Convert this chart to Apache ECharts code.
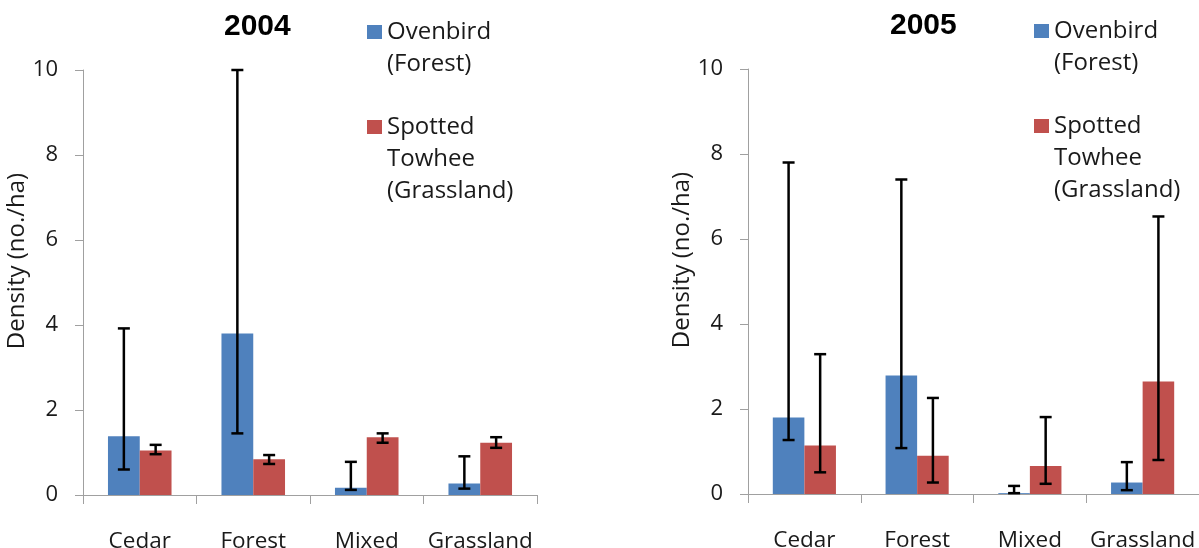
<!DOCTYPE html>
<html>
<head>
<meta charset="utf-8">
<script src="https://cdn.jsdelivr.net/npm/echarts@6/dist/echarts.min.js"></script>
<style>
html,body{margin:0;padding:0;background:#fff;}
#chart{width:1199px;height:548px;}
</style>
</head>
<body>
<div id="chart"></div>
<script>
var categories = ['Cedar', 'Forest', 'Mixed', 'Grassland'];
var yTicks = [0, 2, 4, 6, 8, 10];

var ovenbird2004 = [1.38, 3.80, 0.17, 0.27];
var ovenbird2004Low = [0.60, 1.45, 0.12, 0.15];
var ovenbird2004High = [3.92, 10.0, 0.78, 0.91];
var towhee2004 = [1.05, 0.84, 1.36, 1.23];
var towhee2004Low = [0.96, 0.73, 1.23, 1.11];
var towhee2004High = [1.18, 0.94, 1.45, 1.36];

var ovenbird2005 = [1.80, 2.79, 0.02, 0.27];
var ovenbird2005Low = [1.27, 1.08, 0.02, 0.09];
var ovenbird2005High = [7.80, 7.40, 0.19, 0.75];
var towhee2005 = [1.14, 0.90, 0.66, 2.65];
var towhee2005Low = [0.51, 0.27, 0.24, 0.80];
var towhee2005High = [3.29, 2.26, 1.81, 6.53];

var titles = ['2004', '2005'];
var seriesNames = ['Ovenbird (Forest)', 'Spotted Towhee (Grassland)'];
var legendLabels = ['Ovenbird\n(Forest)', 'Spotted\nTowhee\n(Grassland)'];
var yName = 'Density (no./ha)';

var BLUE = '#4f81bd', RED = '#c0504d';
var GAP = 0.44;
var FONT = "'Open Sans', 'Noto Sans', sans-serif";
var TXT = '#1a1a1a';
var AXIS = '#a0a0a0';

function errData(lo, hi) {
  return lo.map(function (v, i) { return [i, v, hi[i]]; });
}
function errRender(side) {
  return function (params, api) {
    var x = api.value(0), lo = api.value(1), hi = api.value(2);
    var p1 = api.coord([x, hi]), p2 = api.coord([x, lo]);
    var catW = api.size([1, 0])[0];
    var barW = catW * (1 - GAP) / 2;
    var cx = p1[0] + side * barW / 2;
    var hw = 6;
    var st = { stroke: '#000', lineWidth: 2.5 };
    return {
      type: 'group',
      children: [
        { type: 'line', shape: { x1: cx, y1: p1[1], x2: cx, y2: p2[1] }, style: st },
        { type: 'line', shape: { x1: cx - hw, y1: p1[1], x2: cx + hw, y2: p1[1] }, style: st },
        { type: 'line', shape: { x1: cx - hw, y1: p2[1], x2: cx + hw, y2: p2[1] }, style: st }
      ]
    };
  };
}

var grids = [
  { left: 83, top: 70, width: 454, height: 425, outerBoundsMode: 'none', containLabel: false },
  { left: 748, top: 69, width: 451, height: 425, outerBoundsMode: 'none', containLabel: false }
];

function xAxis(i) {
  return {
    type: 'category', gridIndex: i, data: categories,
    axisLine: { lineStyle: { color: AXIS, width: 1 } },
    axisTick: { show: true, interval: 0, alignWithLabel: false, length: 9, lineStyle: { color: AXIS } },
    axisLabel: { interval: 0, margin: 35, fontFamily: FONT, fontSize: 22.5, color: TXT }
  };
}
function yAxis(i) {
  return {
    type: 'value', gridIndex: i, min: yTicks[0], max: yTicks[yTicks.length - 1], interval: yTicks[1] - yTicks[0],
    axisLine: { show: true, lineStyle: { color: AXIS, width: 1 } },
    axisTick: { show: true, length: 8, lineStyle: { color: AXIS } },
    splitLine: { show: false },
    axisLabel: { margin: 25, fontFamily: FONT, fontSize: 22, color: TXT },
    name: yName, nameLocation: 'middle', nameGap: 42,
    nameTextStyle: { fontFamily: FONT, fontSize: 24, color: TXT, padding: [0, 0, 0, 43] }
  };
}

function legend(left, top, idx) {
  var lead = idx === 0 ? '\n' : '\n\n';
  return {
    left: left, top: top, orient: 'vertical', padding: 0,
    itemWidth: 15, itemHeight: 14, icon: 'rect', selectedMode: false,
    data: [seriesNames[idx]],
    formatter: function (n) { return lead + legendLabels[seriesNames.indexOf(n)]; },
    textStyle: { fontFamily: FONT, fontSize: 24, lineHeight: 32, color: TXT }
  };
}

function chartSeries(i, ob, obLo, obHi, tw, twLo, twHi) {
  return [
    { type: 'bar', name: seriesNames[0], xAxisIndex: i, yAxisIndex: i, data: ob,
      itemStyle: { color: BLUE }, barGap: '0%', barCategoryGap: (GAP * 100) + '%' },
    { type: 'bar', name: seriesNames[1], xAxisIndex: i, yAxisIndex: i, data: tw,
      itemStyle: { color: RED }, barGap: '0%', barCategoryGap: (GAP * 100) + '%' },
    { type: 'custom', xAxisIndex: i, yAxisIndex: i, data: errData(obLo, obHi),
      renderItem: errRender(-1), encode: { x: 0, y: [1, 2] }, z: 10, silent: true },
    { type: 'custom', xAxisIndex: i, yAxisIndex: i, data: errData(twLo, twHi),
      renderItem: errRender(1), encode: { x: 0, y: [1, 2] }, z: 10, silent: true }
  ];
}

var chart = echarts.init(document.getElementById('chart'), null, { renderer: 'canvas' });
chart.setOption({
  animation: false,
  backgroundColor: '#fff',
  title: [
    { text: titles[0], left: 219, top: 7, textStyle: { fontFamily: "'Liberation Sans', Arial, sans-serif", fontSize: 30, fontWeight: 'bold', color: '#000' } },
    { text: titles[1], left: 885, top: 6, textStyle: { fontFamily: "'Liberation Sans', Arial, sans-serif", fontSize: 30, fontWeight: 'bold', color: '#000' } }
  ],
  legend: [legend(367, -16, 0), legend(367, 47, 1), legend(1034, -17, 0), legend(1034, 46, 1)],
  grid: grids,
  xAxis: [xAxis(0), xAxis(1)],
  yAxis: [yAxis(0), yAxis(1)],
  series: chartSeries(0, ovenbird2004, ovenbird2004Low, ovenbird2004High, towhee2004, towhee2004Low, towhee2004High)
    .concat(chartSeries(1, ovenbird2005, ovenbird2005Low, ovenbird2005High, towhee2005, towhee2005Low, towhee2005High))
});
</script>
</body>
</html>
